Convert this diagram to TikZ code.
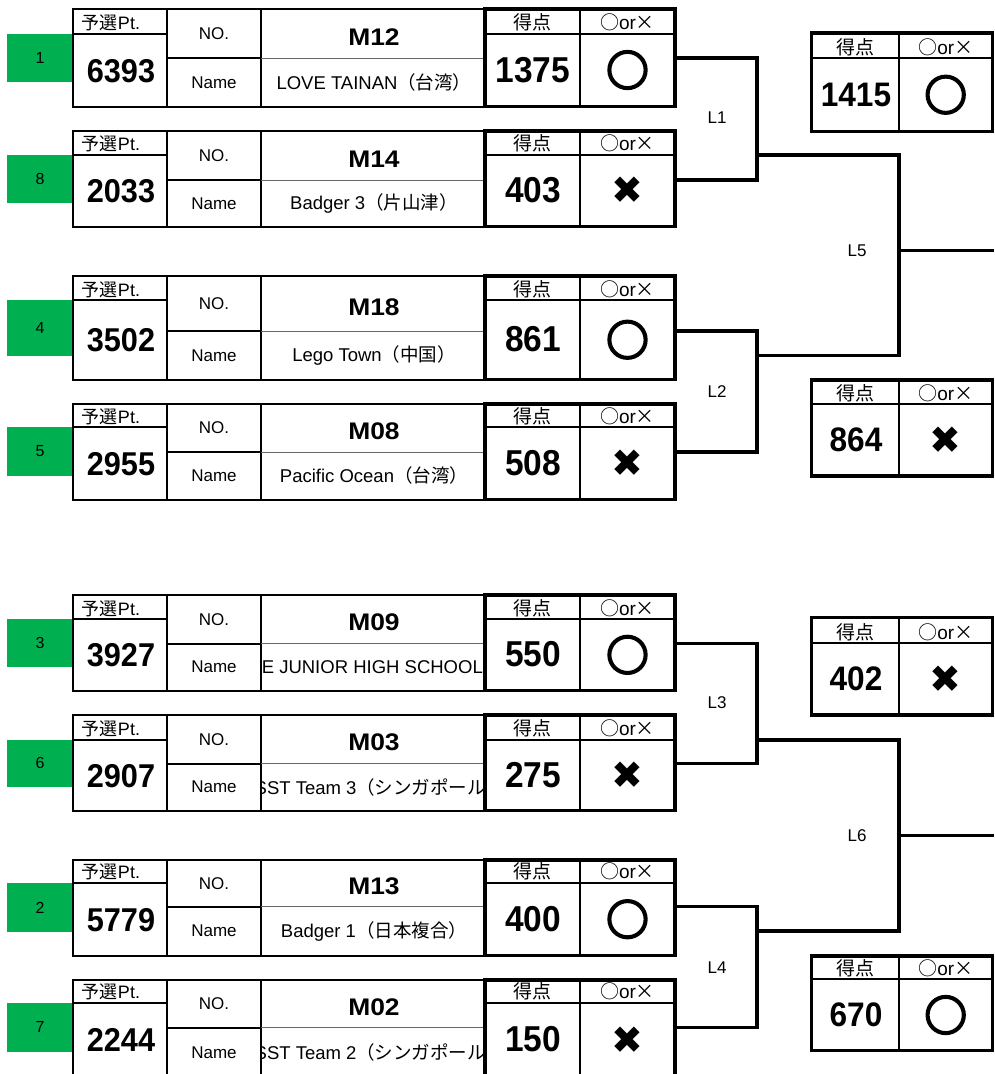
\documentclass[tikz,border=0pt]{standalone}
\usepackage{fontspec}
\setmainfont{Liberation Sans}
\newfontfamily\jp{Noto Sans CJK JP}
\newfontfamily\jpb[FakeBold=6]{Noto Sans CJK JP}
\newfontfamily\dv{DejaVu Sans}
\newfontfamily\numf[FakeStretch=0.93]{Liberation Sans}
\newfontfamily\mnumf[FakeStretch=1.1]{Liberation Sans}
\definecolor{xlgreen}{HTML}{00B050}
\newcommand\jtxt[1]{{\jp #1}}
\newcommand\fs[1]{\fontsize{#1}{#1}\selectfont}
\newcommand\maru{{\jpb\fs{42}○}}
\newcommand\batsu{{\dv\fs{38}✖}}
\newcommand\okx{\jtxt{○}or\jtxt{×}}
\tikzset{
  tb/.style={line width=2pt},
  sc/.style={line width=3.5pt},
  br/.style={line width=3.5pt},
  thinline/.style={line width=1pt, black!60},
  lbl/.style={inner sep=0pt, anchor=center, font=\fs{17}},
  hdr/.style={inner sep=0pt, anchor=center, font=\fs{19}},
  ptnum/.style={inner sep=0pt, anchor=base, font=\numf\bfseries\fs{33}},
  scnum/.style={inner sep=0pt, anchor=base, font=\numf\bfseries\fs{36}},
  resnum/.style={inner sep=0pt, anchor=base, font=\numf\bfseries\fs{34}},
  mno/.style={inner sep=0pt, anchor=base, font=\mnumf\bfseries\fs{24}},
  nm/.style={inner sep=0pt, font=\fs{18.5}},
  seed/.style={inner sep=0pt, anchor=center, font=\fs{16}},
  mk/.style={inner sep=0pt, anchor=center},
}
\begin{document}
\begin{tikzpicture}[x=1pt,y=-1pt]
\useasboundingbox (0,0) rectangle (994,1074);
\fill[white] (0,0) rectangle (994,1074);
\foreach \i/\t/\p/\n/\b/\gt/\gb/\sd/\pt/\no/\nmtext/\sc/\mkc/\an/\nx in {
 1/9/33.5/58/106.5/34/82/1/6393/M12/{LOVE TAINAN\jtxt{（台湾）}}/1375/\maru/center/374,
 2/131/154.7/180/226.7/155/202.7/8/2033/M14/{Badger 3\jtxt{（片山津）}}/403/\batsu/center/374,
 3/276/300/331/379.5/300/355.7/4/3502/M18/{Lego Town\jtxt{（中国）}}/861/\maru/center/374,
 4/404/427/452/499.5/427.3/475.7/5/2955/M08/{Pacific Ocean\jtxt{（台湾）}}/508/\batsu/center/374,
 5/595/619/643.7/690.7/619/666.7/3/3927/M09/{E JUNIOR HIGH SCHOOL}/550/\maru/east/483,
 6/715/739.7/763.7/810.7/739.7/786.7/6/2907/M03/{SST Team 3\jtxt{（シンガポール）}}/275/\batsu/west/254.5,
 7/860/882.7/906.7/955.7/883.3/932.3/2/5779/M13/{Badger 1\jtxt{（日本複合）}}/400/\maru/center/374,
 8/980/1002.7/1027.7/1077/1003/1051.7/7/2244/M02/{SST Team 2\jtxt{（シンガポール）}}/150/\batsu/west/254.5}
{
  \pgfmathsetmacro\ya{(\t+\n)/2}
  \pgfmathsetmacro\yb{(\n+\b)/2}
  \pgfmathsetmacro\yc{(\p+\b)/2}
  \pgfmathsetmacro\yd{(\gt+\gb)/2}
  % seed box
  \fill[xlgreen] (7,\gt) rectangle (72,\gb);
  \node[seed] (seed\i) at (40,\yd) {\sd};
  % left table
  \draw[tb] (73,\t) rectangle (485,\b);
  \draw[tb] (73,\p) -- (168,\p);
  \draw[tb] (166.5,\t) -- (166.5,\b);
  \draw[tb] (261,\t) -- (261,\b);
  \draw[tb] (166.5,\n) -- (261,\n);
  \draw[thinline] (261,\n) -- (485,\n);
  \node[inner sep=0pt, anchor=center, font=\fs{18}] (ptl\i) at (111,\p-10.5) {\jtxt{予選}Pt.};
  \node[ptnum] (ptn\i) at (121,\yc+12) {\pt};
  \node[lbl] (nol\i) at (214,\ya) {NO.};
  \node[lbl] (nal\i) at (214,\yb) {Name};
  \node[mno] (no\i) at (374,\ya+11.5) {\no};
  \begin{scope}
    \clip (262,\n) rectangle (484,\b);
    \node[nm, anchor=\an] (name\i) at (\nx,\yb) {\nmtext};
  \end{scope}
  % score table
  \draw[sc] (485,\t) rectangle (675,\b);
  \draw[tb] (485,\p) -- (675,\p);
  \draw[tb] (580,\t) -- (580,\b);
  \node[hdr] (sch\i) at (532.5,\p-11) {\jtxt{得点}};
  \node[hdr] (okh\i) at (627.5,\p-11) {\okx};
  \node[scnum] (score\i) at (533,\yc+12) {\sc};
  \node[mk] (mark\i) at (627.5,\yc) {\mkc};
  \coordinate (o\i) at (675,\n);
}
% result boxes
\foreach \r/\t/\h/\b/\val/\mkc in {
 1/33/58/131.5/1415/\maru,
 2/380/404/476/864/\batsu,
 3/617.7/643/715/402/\batsu,
 4/956/979.3/1050.7/670/\maru}
{
  \pgfmathsetmacro\ya{(\t+\h)/2}
  \pgfmathsetmacro\yb{(\h+\b)/2}
  \draw[sc] (811.7,\t) rectangle (992.5,\b);
  \draw[tb] (811.7,\h) -- (992.5,\h);
  \draw[tb] (899,\t) -- (899,\b);
  \node[hdr] (rh\r) at (855.5,\h-11) {\jtxt{得点}};
  \node[hdr] (rk\r) at (945.7,\h-11) {\okx};
  \node[resnum] (rv\r) at (856,\yb+11.5) {\val};
  \node[mk] (rm\r) at (945.7,\yb) {\mkc};
}
% bracket junctions
\coordinate (j1) at (757,155);
\coordinate (j2) at (757,355.7);
\coordinate (j3) at (757,740);
\coordinate (j4) at (757,931);
\coordinate (m5) at (899,250.7);
\coordinate (m6) at (899,835.7);
\coordinate (e5) at (994,250.7);
\coordinate (e6) at (994,835.7);
\draw[br] (o1) -| (j1) |- (o2);
\draw[br] (o3) -| (j2) |- (o4);
\draw[br] (o5) -| (j3) |- (o6);
\draw[br] (o7) -| (j4) |- (o8);
\draw[br] (j1) -| (m5) |- (j2);
\draw[br] (j3) -| (m6) |- (j4);
\draw[br] (m5) -- (e5);
\draw[br] (m6) -- (e6);
\node[lbl] (L1) at (717,118) {L1};
\node[lbl] (L2) at (717,391.7) {L2};
\node[lbl] (L3) at (717,703) {L3};
\node[lbl] (L4) at (717,968) {L4};
\node[lbl] (L5) at (857,250.7) {L5};
\node[lbl] (L6) at (857,835.7) {L6};
\end{tikzpicture}
\end{document}
